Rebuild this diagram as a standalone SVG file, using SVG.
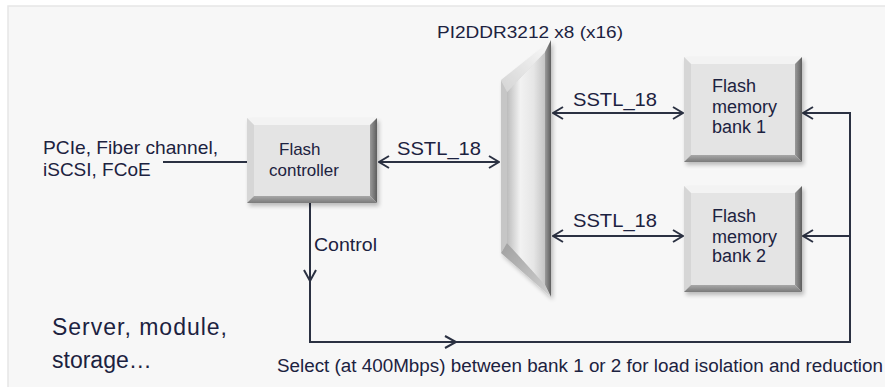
<svg xmlns="http://www.w3.org/2000/svg" width="885" height="387" viewBox="0 0 885 387">
<style>
text{font-family:"Liberation Sans",Arial,sans-serif;fill:#1c2240}
.t17{font-size:17px}
.t19{font-size:19px}
.t18{font-size:18px}
.big{font-size:23px}
.ln{fill:none;stroke:#2b3142;stroke-width:2}
.face{fill:#e4e4e4}
.top{fill:#f3f3f3}
.lft{fill:#d6d6d6}
.rgt{fill:url(#gR)}
.bot{fill:url(#gB)}
</style>
<defs>
<linearGradient id="gR" x1="0" y1="0" x2="1" y2="0">
<stop offset="0" stop-color="#9a9a9a"/><stop offset="1" stop-color="#5e5e5e"/>
</linearGradient>
<linearGradient id="gB" x1="0" y1="0" x2="0" y2="1">
<stop offset="0" stop-color="#a8a8a8"/><stop offset="1" stop-color="#7a7a7a"/>
</linearGradient>
<linearGradient id="gMux" x1="0" y1="0" x2="1" y2="0">
<stop offset="0" stop-color="#bcbcbc"/><stop offset="0.35" stop-color="#f2f2f2"/><stop offset="0.7" stop-color="#e6e6e6"/><stop offset="1" stop-color="#c4c4c4"/>
</linearGradient>
<linearGradient id="gMuxTop" x1="0" y1="1" x2="1" y2="0">
<stop offset="0" stop-color="#d4d4d4"/><stop offset="1" stop-color="#fafafa"/>
</linearGradient>
<linearGradient id="gMuxBot" x1="0" y1="0" x2="1" y2="1">
<stop offset="0" stop-color="#a0a0a0"/><stop offset="1" stop-color="#d0d0d0"/>
</linearGradient>
<filter id="sh" x="-10%" y="-10%" width="130%" height="130%">
<feGaussianBlur in="SourceAlpha" stdDeviation="2"/>
<feOffset dx="2" dy="3"/>
<feComponentTransfer><feFuncA type="linear" slope="0.25"/></feComponentTransfer>
<feMerge><feMergeNode/><feMergeNode in="SourceGraphic"/></feMerge>
</filter>
<marker id="ar" viewBox="0 0 12 14" refX="11" refY="7" markerWidth="12" markerHeight="14" markerUnits="userSpaceOnUse" orient="auto-start-reverse">
<path d="M1,1 L11,7 L1,13" fill="none" stroke="#2b3142" stroke-width="2"/>
</marker>
</defs>
<rect width="885" height="387" fill="#ffffff"/>
<rect x="8" y="6" width="880" height="385" fill="#f7f7f7" stroke="#e6e6e6" stroke-width="1.5"/>

<g id="connectors">
<path class="ln" d="M163,162 H247"/>
<path class="ln" d="M379,162 H499" marker-start="url(#ar)" marker-end="url(#ar)"/>
<path class="ln" d="M553,113 H683" marker-start="url(#ar)" marker-end="url(#ar)"/>
<path class="ln" d="M553,236 H683" marker-start="url(#ar)" marker-end="url(#ar)"/>
<path class="ln" d="M310,203 V342 H850 V113 H803" marker-end="url(#ar)"/>
<path class="ln" d="M850,236 H803" marker-end="url(#ar)"/>
<path class="ln" d="M304,270 L310,281 L316,270"/>
<path class="ln" d="M445,336 L456,342 L445,348"/>
</g>

<g id="flash-controller" filter="url(#sh)">
<rect class="face" x="247" y="118" width="130" height="85"/>
<polygon class="top" points="247,118 377,118 370,125 254,125"/>
<polygon class="lft" points="247,118 254,125 254,196 247,203"/>
<polygon class="rgt" points="377,118 377,203 370,196 370,125"/>
<polygon class="bot" points="247,203 377,203 370,196 254,196"/>
</g>
<g id="flash-controller-label">
<text class="t17" x="279" y="155">Flash</text>
<text class="t17" x="269" y="176">controller</text>
</g>

<g id="mux" filter="url(#sh)">
<polygon points="507,92 545,52 545,285 507,243" fill="url(#gMux)"/>
<polygon points="501,80 551,40 545,52 507,92" fill="url(#gMuxTop)"/>
<polygon points="501,80 507,92 507,243 501,253" fill="#c6c6c6"/>
<polygon points="551,40 551,297 545,285 545,52" fill="url(#gR)"/>
<polygon points="501,253 507,243 545,285 551,297" fill="url(#gMuxBot)"/>
</g>
<text class="t17" x="437" y="38" textLength="186" lengthAdjust="spacingAndGlyphs">PI2DDR3212 x8 (x16)</text>

<g id="bank1" filter="url(#sh)">
<rect class="face" x="684" y="57" width="118" height="105"/>
<polygon class="top" points="684,57 802,57 795,64 691,64"/>
<polygon class="lft" points="684,57 691,64 691,155 684,162"/>
<polygon class="rgt" points="802,57 802,162 795,155 795,64"/>
<polygon class="bot" points="684,162 802,162 795,155 691,155"/>
</g>
<g id="bank1-label" class="t18">
<text x="712" y="92">Flash</text>
<text x="712" y="113">memory</text>
<text x="712" y="133">bank 1</text>
</g>

<g id="bank2" filter="url(#sh)">
<rect class="face" x="684" y="186" width="118" height="106"/>
<polygon class="top" points="684,186 802,186 795,193 691,193"/>
<polygon class="lft" points="684,186 691,193 691,285 684,292"/>
<polygon class="rgt" points="802,186 802,292 795,285 795,193"/>
<polygon class="bot" points="684,292 802,292 795,285 691,285"/>
</g>
<g id="bank2-label" class="t18">
<text x="712" y="222">Flash</text>
<text x="712" y="243">memory</text>
<text x="712" y="262">bank 2</text>
</g>

<g id="labels">
<text class="t19" x="43" y="154" textLength="175" lengthAdjust="spacingAndGlyphs">PCIe, Fiber channel,</text>
<text class="t19" x="43" y="176">iSCSI, FCoE</text>
<text class="t19" x="397" y="155" textLength="84" lengthAdjust="spacingAndGlyphs">SSTL_18</text>
<text class="t19" x="573" y="106" textLength="84" lengthAdjust="spacingAndGlyphs">SSTL_18</text>
<text class="t19" x="573" y="227" textLength="84" lengthAdjust="spacingAndGlyphs">SSTL_18</text>
<text class="t18" x="314" y="251" textLength="63" lengthAdjust="spacingAndGlyphs">Control</text>
<text class="big" x="52" y="335" textLength="175" lengthAdjust="spacing">Server, module,</text>
<text class="big" x="52" y="368">storage…</text>
<text class="t18" x="277" y="372" textLength="606" lengthAdjust="spacingAndGlyphs">Select (at 400Mbps) between bank 1 or 2 for load isolation and reduction</text>
</g>
</svg>
